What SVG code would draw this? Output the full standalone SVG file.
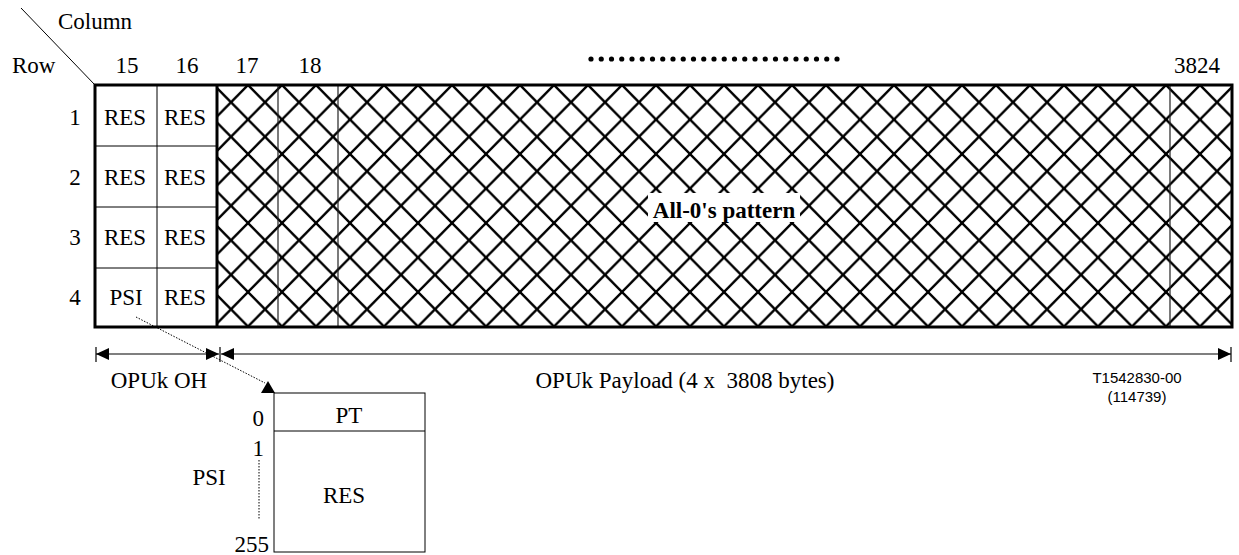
<svg xmlns="http://www.w3.org/2000/svg" width="1239" height="555" viewBox="0 0 1239 555">
<style>
  text { font-family: "Liberation Serif", "Times New Roman", serif; font-size: 23px; fill: #000; }
  .c { text-anchor: middle; }
  .e { text-anchor: end; }
  .b { font-weight: bold; }
  .sans { font-family: "Liberation Sans", Arial, sans-serif; font-size: 15px; text-anchor: middle; }
  .thin { stroke: #000; stroke-width: 1; fill: none; }
  .grey { stroke: #222; stroke-width: 1.2; fill: none; }
  .thick { stroke: #000; stroke-width: 3; fill: none; }
  .dim { stroke: #000; stroke-width: 1.2; fill: none; }
  .dot { stroke: #000; stroke-width: 1; stroke-dasharray: 1.5 1.5; fill: none; }
</style>
<defs>
  <pattern id="hatch" patternUnits="userSpaceOnUse" x="214" y="85" width="34" height="34.5">
    <path d="M-10,-10.15 L44,44.65 M44,-10.15 L-10,44.65" stroke="#000" stroke-width="2.4" fill="none"/>
  </pattern>
  <marker id="arr" viewBox="0 0 13 12" refX="13" refY="6" markerWidth="13" markerHeight="12" markerUnits="userSpaceOnUse" orient="auto-start-reverse">
    <path d="M0,0 L13,6 L0,12 z" fill="#000"/>
  </marker>
</defs>

<g id="header">
  <line x1="21" y1="8" x2="95" y2="85" class="thin"/>
  <text x="58" y="29">Column</text>
  <text x="12" y="73">Row</text>
  <text x="127" y="73" class="c">15</text>
  <text x="187" y="73" class="c">16</text>
  <text x="247" y="73" class="c">17</text>
  <text x="310" y="73" class="c">18</text>
  <text x="1197" y="73" class="c">3824</text>
  <g id="ellipsis" fill="#000">
    <circle cx="591" cy="59" r="2.6"/><circle cx="601.25" cy="59" r="2.6"/><circle cx="611.5" cy="59" r="2.6"/><circle cx="621.75" cy="59" r="2.6"/><circle cx="632" cy="59" r="2.6"/>
    <circle cx="642.25" cy="59" r="2.6"/><circle cx="652.5" cy="59" r="2.6"/><circle cx="662.75" cy="59" r="2.6"/><circle cx="673" cy="59" r="2.6"/><circle cx="683.25" cy="59" r="2.6"/>
    <circle cx="693.5" cy="59" r="2.6"/><circle cx="703.75" cy="59" r="2.6"/><circle cx="714" cy="59" r="2.6"/><circle cx="724.25" cy="59" r="2.6"/><circle cx="734.5" cy="59" r="2.6"/>
    <circle cx="744.75" cy="59" r="2.6"/><circle cx="755" cy="59" r="2.6"/><circle cx="765.25" cy="59" r="2.6"/><circle cx="775.5" cy="59" r="2.6"/><circle cx="785.75" cy="59" r="2.6"/>
    <circle cx="796" cy="59" r="2.6"/><circle cx="806.25" cy="59" r="2.6"/><circle cx="816.5" cy="59" r="2.6"/><circle cx="826.75" cy="59" r="2.6"/><circle cx="837" cy="59" r="2.6"/>
  </g>
</g>

<g id="row-labels">
  <text x="75" y="125" class="c">1</text>
  <text x="75" y="185" class="c">2</text>
  <text x="75" y="245" class="c">3</text>
  <text x="75" y="305" class="c">4</text>
</g>

<g id="payload">
  <rect x="217" y="85" width="1015" height="242" fill="#fff"/>
  <rect x="217" y="85" width="1015" height="242" fill="url(#hatch)"/>
  <line x1="278" y1="85" x2="278" y2="327" class="grey"/>
  <line x1="338" y1="85" x2="338" y2="327" class="grey"/>
  <line x1="1170" y1="85" x2="1170" y2="327" class="grey"/>
  <rect x="648" y="193" width="152" height="29" fill="#fff"/>
  <text x="724" y="218" class="c b">All-0's pattern</text>
</g>

<g id="opu-oh">
  <rect x="95" y="85" width="122" height="242" fill="#fff"/>
  <line x1="157" y1="85" x2="157" y2="327" class="thin"/>
  <line x1="95" y1="146" x2="217" y2="146" class="thin"/>
  <line x1="95" y1="207" x2="217" y2="207" class="thin"/>
  <line x1="95" y1="268" x2="217" y2="268" class="thin"/>
  <text x="125" y="125" class="c">RES</text>
  <text x="185" y="125" class="c">RES</text>
  <text x="125" y="185" class="c">RES</text>
  <text x="185" y="185" class="c">RES</text>
  <text x="125" y="245" class="c">RES</text>
  <text x="185" y="245" class="c">RES</text>
  <text x="126" y="305" class="c">PSI</text>
  <text x="185" y="305" class="c">RES</text>
</g>

<g id="frame">
  <rect x="95" y="85" width="1137" height="242" class="thick"/>
  <line x1="217" y1="85" x2="217" y2="327" class="thick"/>
</g>

<g id="psi-detail">
  <rect x="274" y="393" width="151" height="159" class="thin"/>
  <line x1="274" y1="431" x2="425" y2="431" class="thin"/>
  <text x="349" y="423" class="c">PT</text>
  <text x="344" y="503" class="c">RES</text>
  <text x="264" y="426" class="e">0</text>
  <text x="264" y="456" class="e">1</text>
  <text x="269" y="552" class="e">255</text>
  <text x="209" y="485" class="c">PSI</text>
  <line x1="259" y1="460" x2="259" y2="520" class="dot"/>
</g>

<g id="connectors">
  <line x1="96" y1="354" x2="219" y2="354" class="dim" marker-start="url(#arr)" marker-end="url(#arr)"/>
  <line x1="221" y1="354" x2="1231" y2="354" class="dim" marker-start="url(#arr)" marker-end="url(#arr)"/>
  <line x1="96" y1="347" x2="96" y2="362" class="dim"/>
  <line x1="220" y1="347" x2="220" y2="362" class="dim"/>
  <line x1="1231" y1="347" x2="1231" y2="362" class="dim"/>
  <line x1="136" y1="317" x2="265" y2="383" class="dot"/>
  <polygon points="261,393 275,393 268,381" fill="#000"/>
</g>

<g id="dimension-labels">
  <text x="159" y="388" class="c">OPUk OH</text>
  <text x="685" y="388" class="c" xml:space="preserve">OPUk Payload (4 x  3808 bytes)</text>
  <text x="1137" y="383" class="sans">T1542830-00</text>
  <text x="1137" y="402" class="sans">(114739)</text>
</g>
</svg>
